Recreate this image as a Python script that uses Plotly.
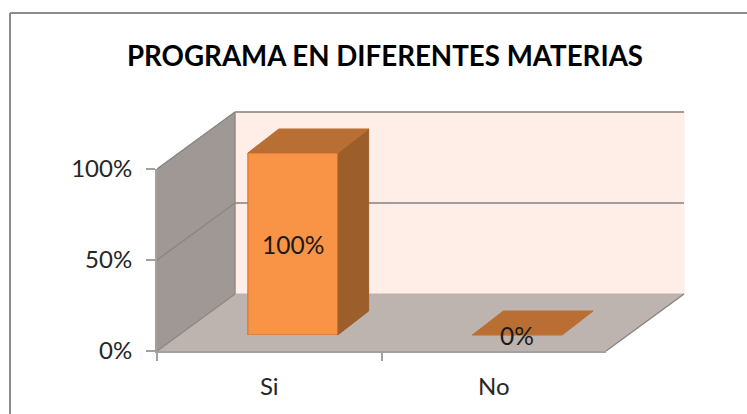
import plotly.graph_objects as go

# data
categories = ["Si", "No"]
values = [100, 0]
y_ticks = [0, 50, 100]
y_tick_labels = ["0%", "50%", "100%"]
title_text = "PROGRAMA EN DIFERENTES MATERIAS"

W, H = 747, 414
FONT = "Lato"

# front plane of the box, in pixels
X0, X1 = 157, 606
Y0, Y100 = 351, 169
# box depth and bar depth
DX, DY = 78, 57
BAR_DX, BAR_DY = 31, 24
# shift of the bars from the front plane
SHIFT_X, SHIFT_Y = 23.5, 16
BAR_WIDTH = 0.4


def px(x):
    return x / W


def py(y):
    return 1 - y / H


def poly(points, fill, line=None, width=1):
    path = "M " + " L ".join(f"{px(x)},{py(y)}" for x, y in points) + " Z"
    return dict(type="path", path=path, xref="paper", yref="paper", layer="below",
                fillcolor=fill, line=dict(color=line or fill, width=width))


def seg(x0, y0, x1, y1, color="#a19c98", width=2, layer="below"):
    return dict(type="line", xref="paper", yref="paper", layer=layer,
                x0=px(x0), y0=py(y0), x1=px(x1), y1=py(y1),
                line=dict(color=color, width=width))


def val_y(v):
    return Y0 - SHIFT_Y - (Y0 - Y100) * v / 100


def cat_x(i):
    step = (X1 - X0) / len(categories)
    return X0 + SHIFT_X + step * (i + 0.5)


shapes = [
    # back wall, side wall, floor
    poly([(X0 + DX, Y100 - DY), (X1 + DX, Y100 - DY), (X1 + DX, Y0 - DY), (X0 + DX, Y0 - DY)], "#feeee7"),
    poly([(X0, Y0), (X0 + DX, Y0 - DY), (X0 + DX, Y100 - DY), (X0, Y100)], "#9f9894"),
    poly([(X0, Y0), (X1, Y0), (X1 + DX, Y0 - DY), (X0 + DX, Y0 - DY)], "#bdb3af"),
]
for t in y_ticks:
    y = Y0 - (Y0 - Y100) * t / 100
    if t > 0:
        shapes.append(seg(X0 + DX, y - DY, X1 + DX, y - DY))
    shapes.append(seg(X0, y, X0 + DX, y - DY, color="#8b8783", width=1.5))
shapes.append(seg(X0 + DX, Y0 - DY, X0 + DX, Y100 - DY, color="#8b8783", width=1))
shapes.append(seg(X1, Y0, X1 + DX, Y0 - DY, color="#8b8783", width=1.5))

# top and side faces of the bars, from the values
for i, v in enumerate(values):
    half = BAR_WIDTH * (X1 - X0) / len(categories) / 2
    xl, xr = cat_x(i) - half, cat_x(i) + half
    ybase, ytop = val_y(0), val_y(v)
    if v > 0:
        shapes.append(poly([(xr, ybase), (xr + BAR_DX, ybase - BAR_DY),
                            (xr + BAR_DX, ytop - BAR_DY), (xr, ytop)], "#9c5f2b"))
    shapes.append(poly([(xl, ytop), (xr, ytop), (xr + BAR_DX, ytop - BAR_DY),
                        (xl + BAR_DX, ytop - BAR_DY)], "#b96f33"))

# chart area border, runs off the picture on the right
shapes.append(seg(10, 13, W, 13, color="#8c8c8c", width=2, layer="above"))
shapes.append(seg(10, 13, 10, H, color="#8c8c8c", width=2, layer="above"))

# data labels, centred on each bar
labels = [dict(x=c, y=v / 2, xref="x2", yref="y2", text=f"{v}%", showarrow=False,
               font=dict(family=FONT, size=24.5, color="#1a1a1a"))
          for c, v in zip(categories, values)]

fig = go.Figure()

# axis trace, only there to give the front plane its categories
fig.add_trace(go.Scatter(x=categories, y=values, mode="none", xaxis="x", yaxis="y",
                         hoverinfo="skip", showlegend=False))

fig.add_trace(go.Bar(x=categories, y=values, xaxis="x2", yaxis="y2", width=BAR_WIDTH,
                     marker=dict(color="#f99446", line=dict(color="#c6732f", width=1)),
                     showlegend=False))

fig.update_layout(
    width=W,
    height=H,
    autosize=False,
    margin=dict(l=0, r=0, t=0, b=0),
    paper_bgcolor="white",
    plot_bgcolor="rgba(0,0,0,0)",
    shapes=shapes,
    annotations=labels,
    title=dict(text=f"<b>{title_text}</b>", x=385 / W, y=py(56), xanchor="center", yanchor="middle",
               font=dict(family=FONT, size=27.7, color="#000000")),
    xaxis=dict(domain=[px(X0), px(X1)], anchor="y", type="category", range=[-0.5, 1.5], automargin=False,
               tickson="boundaries", ticks="outside", ticklen=8, tickwidth=2, tickcolor="#a5a09c",
               showline=True, linecolor="#a5a09c", linewidth=2, showgrid=False, zeroline=False,
               ticklabelstandoff=13,
               tickfont=dict(family=FONT, size=24, color="#262626")),
    yaxis=dict(domain=[py(Y0), py(Y100)], anchor="x", range=[0, 100], automargin=False,
               tickvals=y_ticks, ticktext=y_tick_labels, ticks="outside", ticklen=9, tickwidth=2,
               tickcolor="#a5a09c", showline=True, linecolor="#a5a09c", linewidth=2, showgrid=False,
               zeroline=False, ticklabelstandoff=9,
               tickfont=dict(family=FONT, size=24, color="#262626")),
    xaxis2=dict(domain=[px(X0 + SHIFT_X), px(X1 + SHIFT_X)], anchor="y2", type="category",
                range=[-0.5, 1.5], visible=False, automargin=False),
    yaxis2=dict(domain=[py(Y0 - SHIFT_Y), py(Y100 - SHIFT_Y)], anchor="x2", range=[0, 100],
                visible=False, automargin=False),
)

fig.write_html("out.html", config={"displayModeBar": False},
               post_script="document.body.style.margin='0';")
